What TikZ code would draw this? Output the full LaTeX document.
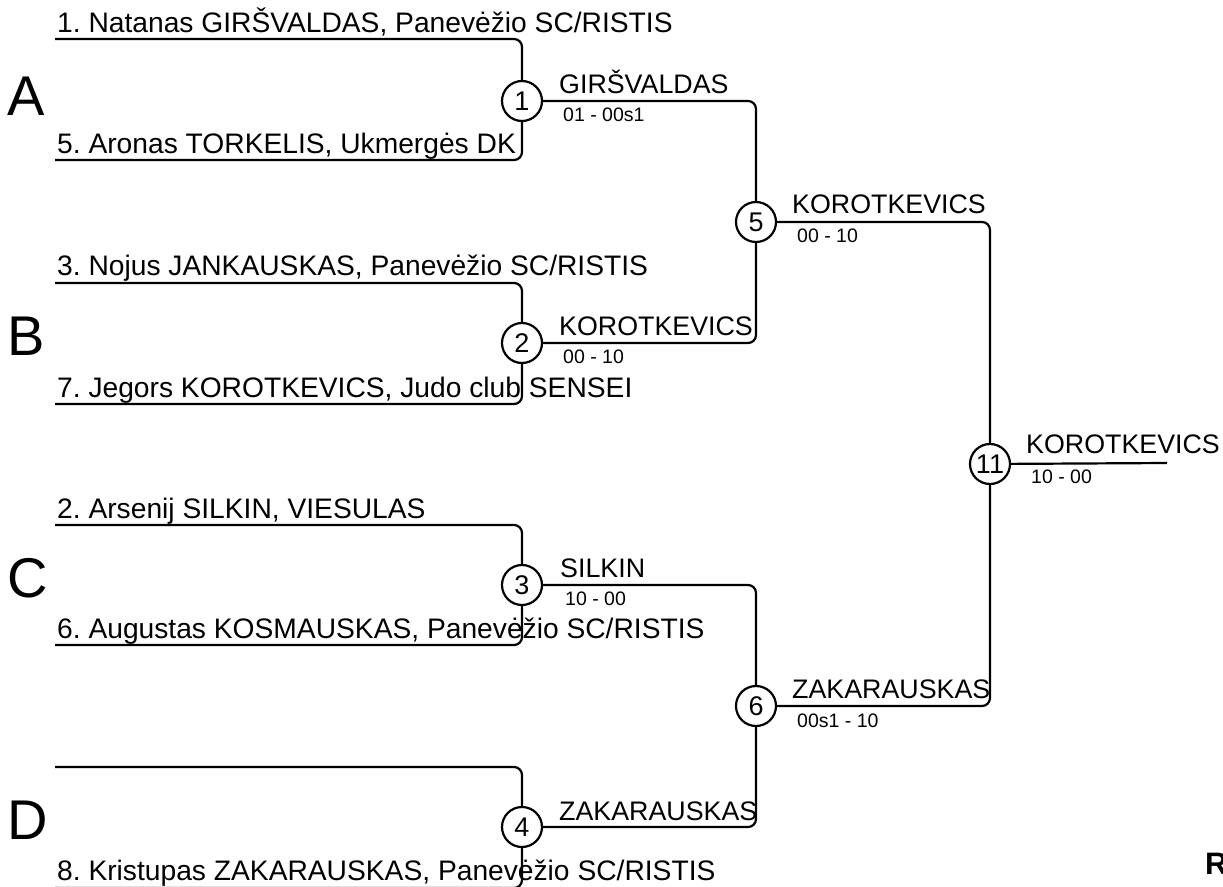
\documentclass[tikz,border=0pt]{standalone}
\usepackage{fontspec}
\setmainfont{Liberation Sans}
\begin{document}
\frenchspacing
\begin{tikzpicture}[x=1pt,y=-1pt,
  br/.style={line width=2.2pt,rounded corners=8pt},
  mnode/.style={circle,draw,line width=2.2pt,fill=white,minimum size=40pt,inner sep=0pt,font=\fontsize{27}{29}\selectfont},
  pname/.style={anchor=base west,inner sep=0pt,font=\fontsize{28.2}{30}\selectfont},
  wname/.style={anchor=base west,inner sep=0pt,font=\fontsize{26.8}{30}\selectfont},
  score/.style={anchor=base west,inner sep=0pt,font=\fontsize{19.5}{22}\selectfont},
  group/.style={anchor=base west,inner sep=0pt,font=\fontsize{56}{60}\selectfont}]
\useasboundingbox (0,0) rectangle (1223,886);
\clip (0,0) rectangle (1223,886);
% line starts
\coordinate (s1) at (55,39);
\coordinate (s5) at (55,160);
\coordinate (s3) at (55,283);
\coordinate (s7) at (55,404);
\coordinate (s2) at (55,525);
\coordinate (s6) at (55,645);
\coordinate (s4) at (55,767);
\coordinate (s8) at (55,888);
\coordinate (fin) at (1167,463);
% match circles
\node[mnode] (m1) at (522,101) {1};
\node[mnode] (m2) at (522,343) {2};
\node[mnode] (m3) at (522,585) {3};
\node[mnode] (m4) at (522,827) {4};
\node[mnode] (m5) at (756,222) {5};
\node[mnode] (m6) at (756,706) {6};
\node[mnode] (m11) at (990,464) {11};
% connectors
\draw[br] (s1) -| (m1);
\draw[br] (s5) -| (m1);
\draw[br] (s3) -| (m2);
\draw[br] (s7) -| (m2);
\draw[br] (s2) -| (m3);
\draw[br] (s6) -| (m3);
\draw[br] (s4) -| (m4);
\draw[br] (s8) -| (m4);
\draw[br] (m1) -| (m5);
\draw[br] (m2) -| (m5);
\draw[br] (m3) -| (m6);
\draw[br] (m4) -| (m6);
\draw[br] (m5) -| (m11);
\draw[br] (m6) -| (m11);
\draw[br] (m11) -- (fin);
% player names
\node[pname] (n1) at (57,32) {1. Natanas GIRŠVALDAS, Panevėžio SC/RISTIS};
\node[pname] (n5) at (57,153) {5. Aronas TORKELIS, Ukmergės DK};
\node[pname] (n3) at (57,275) {3. Nojus JANKAUSKAS, Panevėžio SC/RISTIS};
\node[pname] (n7) at (57,397) {7. Jegors KOROTKEVICS, Judo club SENSEI};
\node[pname] (n2) at (57,518) {2. Arsenij SILKIN, VIESULAS};
\node[pname] (n6) at (57,638) {6. Augustas KOSMAUSKAS, Panevėžio SC/RISTIS};
\node[pname] (n8) at (57,880) {8. Kristupas ZAKARAUSKAS, Panevėžio SC/RISTIS};
% group letters
\node[group] (gA) at (7,115) {A};
\node[group] (gB) at (7,355) {B};
\node[group] (gC) at (7,597) {C};
\node[group] (gD) at (7,839) {D};
% winners and scores
\node[wname] (w1) at (559,93) {GIRŠVALDAS};
\node[score] (c1) at (563,121) {01 - 00s1};
\node[wname] (w2) at (559,335) {KOROTKEVICS};
\node[score] (c2) at (563,363) {00 - 10};
\node[wname] (w3) at (560,577) {SILKIN};
\node[score] (c3) at (565,605) {10 - 00};
\node[wname] (w4) at (559,820) {ZAKARAUSKAS};
\node[wname] (w5) at (792,213) {KOROTKEVICS};
\node[score] (c5) at (797,242) {00 - 10};
\node[wname] (w6) at (792,698) {ZAKARAUSKAS};
\node[score] (c6) at (797,727) {00s1 - 10};
\node[wname] (w11) at (1026,453) {KOROTKEVICS};
\node[score] (c11) at (1031,483) {10 - 00};
% corner label (cut off at the edge, as in the reference)
\node[anchor=base west,inner sep=0pt,font=\fontsize{31}{34}\selectfont\bfseries] (rl) at (1205,874) {R};
\end{tikzpicture}
\end{document}
